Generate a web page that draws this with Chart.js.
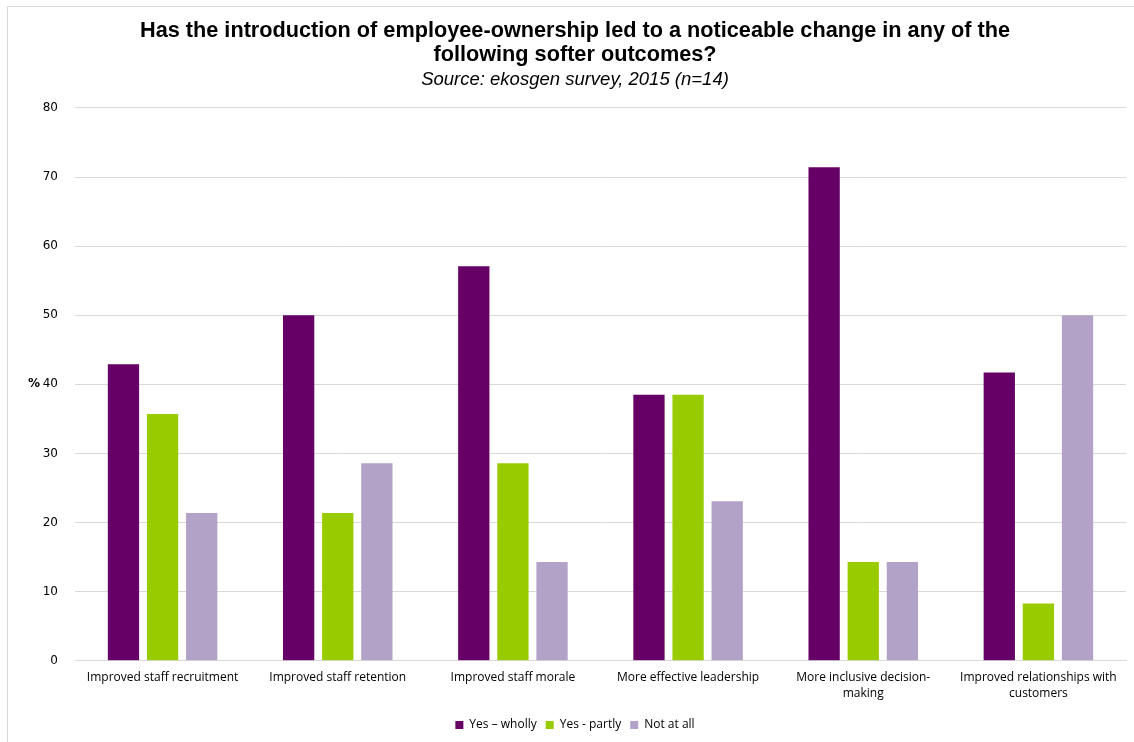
<!DOCTYPE html>
<html>
<head>
<meta charset="utf-8">
<script src="https://cdn.jsdelivr.net/npm/chart.js@4"></script>
<style>
  html, body { margin: 0; padding: 0; background: #fff; }
  #wrap { position: absolute; left: 0; top: 0; width: 1134px; height: 742px; }
  #frame { position: absolute; left: 7px; top: 6px; width: 1140px; height: 760px;
           border-left: 1px solid #d9d9d9; border-top: 1px solid #d9d9d9; pointer-events: none; }
</style>
</head>
<body>
<div id="wrap">
  <canvas id="c" width="1134" height="742"></canvas>
  <div id="frame"></div>
</div>
<script>
const categories = [
  "Improved staff recruitment",
  "Improved staff retention",
  "Improved staff morale",
  "More effective leadership",
  ["More inclusive decision-", "making"],
  ["Improved relationships with", "customers"]
];
const seriesNames = ["Yes \u2013 wholly", "Yes - partly", "Not at all"];
const yesWholly = [42.9, 50.0, 57.1, 38.5, 71.4, 41.7];
const yesPartly = [35.7, 21.4, 28.6, 38.5, 14.3, 8.3];
const notAtAll  = [21.4, 28.6, 14.3, 23.1, 14.3, 50.0];
const seriesColors = ["#660066", "#99CC00", "#B3A2C7"];
const yTicks = [0, 10, 20, 30, 40, 50, 60, 70, 80];

const percentLabel = {
  id: 'percentLabel',
  afterDraw(chart) {
    const ctx = chart.ctx;
    const y = chart.scales.y;
    ctx.save();
    ctx.font = 'bold 12px "DejaVu Sans"';
    ctx.fillStyle = '#000';
    ctx.textAlign = 'left';
    ctx.textBaseline = 'middle';
    ctx.fillText('%', 28, y.getPixelForValue(40));
    ctx.restore();
  }
};

new Chart(document.getElementById('c'), {
  type: 'bar',
  data: {
    labels: categories,
    datasets: [yesWholly, yesPartly, notAtAll].map((d, i) => ({
      label: seriesNames[i],
      data: d,
      backgroundColor: seriesColors[i],
      borderWidth: 0,
      categoryPercentage: 0.67,
      barPercentage: 0.8
    }))
  },
  options: {
    responsive: false,
    animation: false,
    devicePixelRatio: 1,
    layout: { padding: { left: 24, right: 8, top: 9, bottom: 1 } },
    plugins: {
      title: {
        display: true,
        text: ["Has the introduction of employee-ownership led to a noticeable change in any of the", "following softer outcomes?"],
        font: { family: '"Liberation Sans", Arial, sans-serif', size: 21.7, weight: 'bold', lineHeight: 1.1 },
        color: '#000',
        padding: { top: 10, bottom: 0 }
      },
      subtitle: {
        display: true,
        text: "Source: ekosgen survey, 2015 (n=14)",
        font: { family: '"Liberation Sans", Arial, sans-serif', size: 18.5, style: 'italic', lineHeight: 1.2 },
        color: '#000',
        padding: { top: 2, bottom: 17 }
      },
      legend: {
        position: 'bottom',
        labels: {
          boxWidth: 8, boxHeight: 8, padding: 9,
          color: '#000',
          font: { family: '"Open Sans", "Liberation Sans", sans-serif', size: 12 }
        }
      },
      tooltip: { enabled: false }
    },
    scales: {
      x: {
        grid: { display: false, drawTicks: false },
        border: { color: '#d9d9d9' },
        ticks: {
          color: '#000',
          maxRotation: 0,
          autoSkip: false,
          padding: 9,
          font: { family: '"Open Sans", "Liberation Sans", sans-serif', size: 12, lineHeight: 1.3 }
        }
      },
      y: {
        min: 0, max: 80,
        afterBuildTicks(scale) { scale.ticks = yTicks.map(v => ({ value: v })); },
        afterFit(scale) { scale.width = 51; },
        grid: { color: '#d9d9d9', drawTicks: false },
        border: { display: false },
        ticks: {
          color: '#000',
          padding: 17,
          font: { family: '"DejaVu Sans", Verdana, sans-serif', size: 12 }
        }
      }
    }
  },
  plugins: [percentLabel]
});
</script>
</body>
</html>
